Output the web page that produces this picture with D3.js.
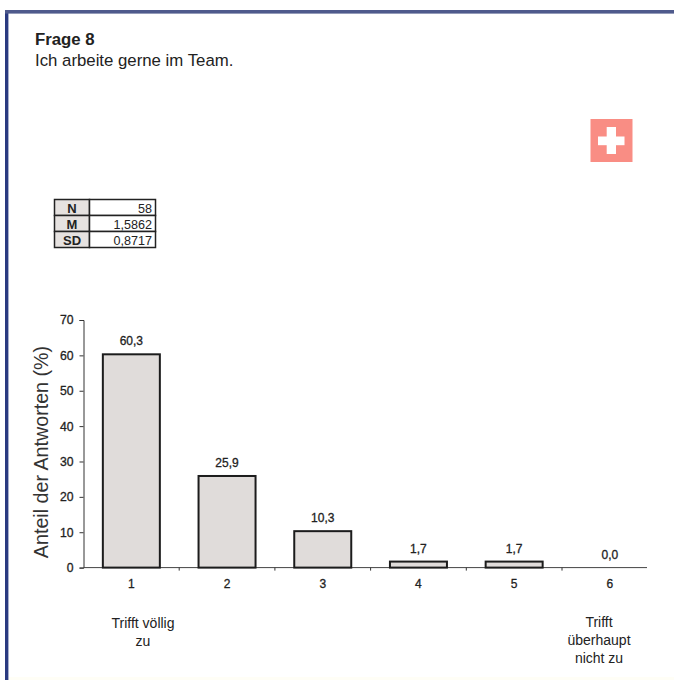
<!DOCTYPE html>
<html><head><meta charset="utf-8">
<script src="https://cdn.jsdelivr.net/npm/d3@7"></script>
<style>html,body{margin:0;padding:0;background:#fff}svg{display:block}text{font-family:"Liberation Sans",Arial,sans-serif;fill:#222}.semi{stroke:#222;stroke-width:.3px}</style>
</head><body><svg id="c" width="674" height="680"></svg>
<script>
const categories = ["1","2","3","4","5","6"];
const values = [60.3,25.9,10.3,1.7,1.7,0.0];
const valueLabels = ["60,3","25,9","10,3","1,7","1,7","0,0"];
const yTicks = [0,10,20,30,40,50,60,70];
const statNames = ["N","M","SD"];
const statValues = ["58","1,5862","0,8717"];
const anchorLeft = ["Trifft völlig","zu"];
const anchorRight = ["Trifft","überhaupt","nicht zu"];

const svg = d3.select("#c");
// bottom paper tint and frame
svg.append("rect").attr("x",8).attr("y",677).attr("width",666).attr("height",3).attr("fill","#fffef6");
svg.append("rect").attr("x",5).attr("y",10).attr("width",3.4).attr("height",670).attr("fill","#2a3a80");
svg.append("rect").attr("x",5).attr("y",10).attr("width",669).attr("height",3.6).attr("fill","#4f5a8c");
// title
svg.append("text").attr("x",35).attr("y",45).attr("font-size",16.8).attr("font-weight","bold").text("Frage 8");
svg.append("text").attr("x",35).attr("y",65.5).attr("font-size",16.8).text("Ich arbeite gerne im Team.");
// flag
svg.append("rect").attr("x",590.5).attr("y",119).attr("width",42).attr("height",43).attr("fill","#f98d84");
svg.append("rect").attr("x",606.7).attr("y",127).attr("width",9.3).attr("height",27).attr("fill","#fff");
svg.append("rect").attr("x",598).attr("y",136.5).attr("width",26.5).attr("height",8.7).attr("fill","#fff");
// stats table
const rowY = d3.scaleBand().domain(statNames).range([199.5,247.5]);
const tb = svg.append("g");
statNames.forEach((n,i)=>{
  const y=rowY(n),h=rowY.bandwidth();
  tb.append("rect").attr("x",54.5).attr("y",y).attr("width",35).attr("height",h).attr("fill","#e6e2e0").attr("stroke","#222").attr("stroke-width",1.5);
  tb.append("rect").attr("x",89.5).attr("y",y).attr("width",66).attr("height",h).attr("fill","#fff").attr("stroke","#222").attr("stroke-width",1.5);
  tb.append("text").attr("x",72).attr("y",y+13.5).attr("text-anchor","middle").attr("font-size",13).attr("font-weight","bold").text(n);
  tb.append("text").attr("x",152).attr("y",y+13.5).attr("text-anchor","end").attr("font-size",12.6).text(statValues[i]);
});
// scales
const x = d3.scaleBand().domain(categories).range([83.5,657.7]).paddingInner(0).paddingOuter(0);
const y = d3.scaleLinear().domain([0,70]).range([567.6,320]);
const bw = 57;
// axes
const gy = svg.append("g").attr("transform","translate(83.5,0)").call(d3.axisLeft(y).tickValues(yTicks).tickSize(4).tickPadding(6));
gy.selectAll("text").attr("font-size",12.2).attr("font-family",'"Liberation Sans",Arial,sans-serif').attr("fill","#222").attr("class","semi");
gy.selectAll("line,path").attr("stroke","#333");
const gx = svg.append("g").attr("transform","translate(0,567.6)");
gx.append("line").attr("x1",83.5).attr("x2",647).attr("stroke","#444");
gx.selectAll("line.t").data(categories.slice(1)).join("line").attr("class","t")
  .attr("x1",d=>x(d)).attr("x2",d=>x(d)).attr("y1",0).attr("y2",3).attr("stroke","#333");
gx.selectAll("text").data(categories).join("text").attr("class","semi")
  .attr("x",d=>x(d)+x.bandwidth()/2).attr("y",20).attr("text-anchor","middle").attr("font-size",12).text(d=>d);
// bars
svg.selectAll("rect.bar").data(values.map((v,i)=>({v,c:categories[i]})).filter(d=>d.v>0)).join("rect").attr("class","bar")
  .attr("x",d=>x(d.c)+x.bandwidth()/2-bw/2).attr("width",bw)
  .attr("y",d=>y(d.v)).attr("height",d=>y(0)-y(d.v))
  .attr("fill","#e0dcda").attr("stroke","#1c1c1c").attr("stroke-width",2);
svg.selectAll("text.val").data(values).join("text").attr("class","val semi")
  .attr("x",(d,i)=>x(categories[i])+x.bandwidth()/2).attr("y",d=>y(d)-9)
  .attr("text-anchor","middle").attr("font-size",12).text((d,i)=>valueLabels[i]);
// y title
svg.append("text").attr("transform","translate(48,452) rotate(-90)").attr("text-anchor","middle").attr("font-size",19.7).style("fill","#333").text("Anteil der Antworten (%)");
// anchors
anchorLeft.forEach((t,i)=>svg.append("text").attr("x",143).attr("y",628+i*18).attr("text-anchor","middle").attr("font-size",14).text(t));
anchorRight.forEach((t,i)=>svg.append("text").attr("x",599).attr("y",627+i*18).attr("text-anchor","middle").attr("font-size",14).text(t));
</script></body></html>
